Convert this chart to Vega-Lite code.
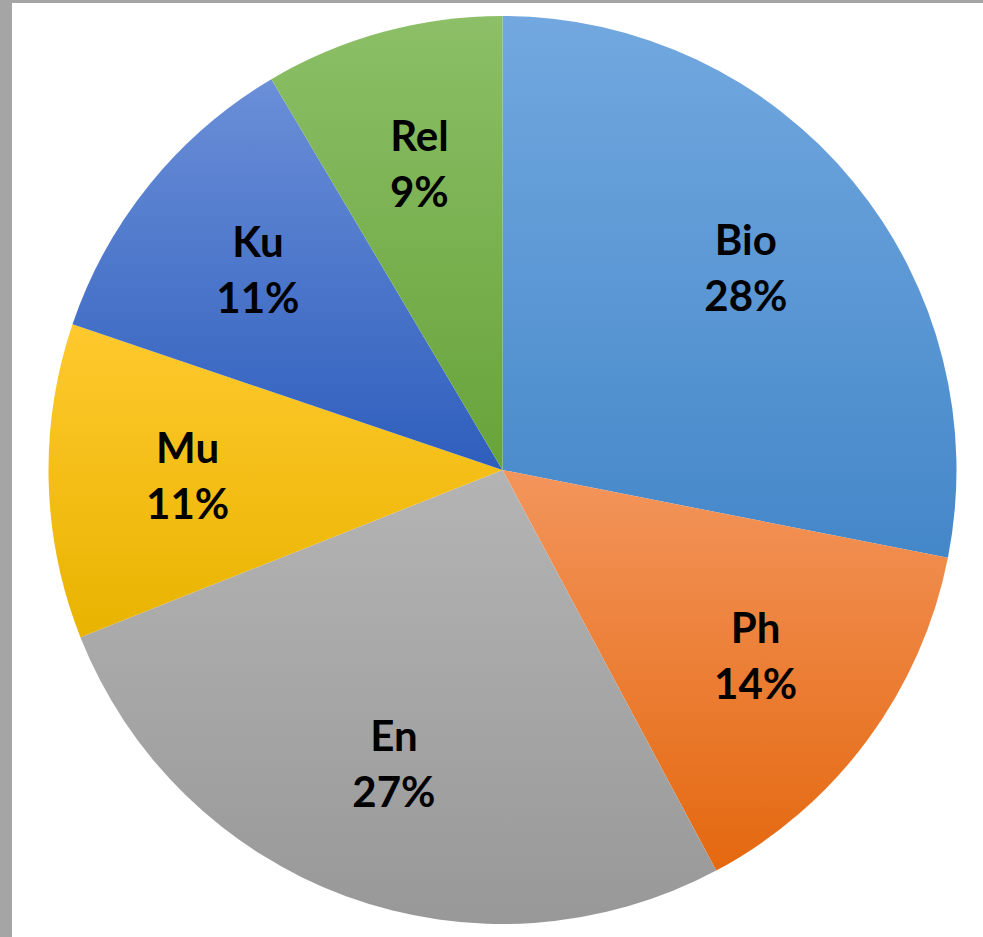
{
  "$schema": "https://vega.github.io/schema/vega-lite/v6.json",
  "width": 981,
  "height": 934,
  "autosize": {"type": "none"},
  "padding": {"left": 12, "top": 3, "right": 0, "bottom": 0},
  "background": "#a5a5a5",
  "view": {"fill": "#ffffff", "stroke": null},
  "data": {
    "values": [
      {"i": 1, "cat": "Bio", "value": 28.1, "pct": "28%"},
      {"i": 2, "cat": "Ph", "value": 14.1, "pct": "14%"},
      {"i": 3, "cat": "En", "value": 26.8, "pct": "27%"},
      {"i": 4, "cat": "Mu", "value": 11.2, "pct": "11%"},
      {"i": 5, "cat": "Ku", "value": 11.3, "pct": "11%"},
      {"i": 6, "cat": "Rel", "value": 8.5, "pct": "9%"}
    ]
  },
  "transform": [{"calculate": "[datum.cat, datum.pct]", "as": "label"}],
  "encoding": {
    "theta": {"field": "value", "type": "quantitative", "stack": true},
    "order": {"field": "i", "type": "ordinal"}
  },
  "layer": [
    {
      "mark": {"type": "arc", "radius": 454},
      "encoding": {
        "fill": {
          "condition": [
            {"test": "datum.cat === 'Bio'", "value": {"gradient": "linear", "x1": 0, "y1": 0, "x2": 0, "y2": 1, "stops": [{"offset": 0, "color": "#72a8df"}, {"offset": 1, "color": "#4487c9"}]}},
            {"test": "datum.cat === 'Ph'", "value": {"gradient": "linear", "x1": 0, "y1": 0, "x2": 0, "y2": 1, "stops": [{"offset": 0, "color": "#f3955c"}, {"offset": 1, "color": "#e4680f"}]}},
            {"test": "datum.cat === 'En'", "value": {"gradient": "linear", "x1": 0, "y1": 0, "x2": 0, "y2": 1, "stops": [{"offset": 0, "color": "#b4b4b4"}, {"offset": 1, "color": "#989898"}]}},
            {"test": "datum.cat === 'Mu'", "value": {"gradient": "linear", "x1": 0, "y1": 0, "x2": 0, "y2": 1, "stops": [{"offset": 0, "color": "#ffc92e"}, {"offset": 1, "color": "#e9b300"}]}},
            {"test": "datum.cat === 'Ku'", "value": {"gradient": "linear", "x1": 0, "y1": 0, "x2": 0, "y2": 1, "stops": [{"offset": 0, "color": "#6b8fd8"}, {"offset": 1, "color": "#2e5ebd"}]}}
          ],
          "value": {"gradient": "linear", "x1": 0, "y1": 0, "x2": 0, "y2": 1, "stops": [{"offset": 0, "color": "#8cbf67"}, {"offset": 1, "color": "#67a33a"}]}
        }
      }
    },
    {
      "mark": {"type": "text", "radius": 315, "dy": -28, "font": "Lato", "fontWeight": "bold", "fontSize": 42, "lineHeight": 56, "color": "#000000", "align": "center", "baseline": "middle"},
      "encoding": {
        "text": {"field": "label"}
      }
    }
  ]
}
